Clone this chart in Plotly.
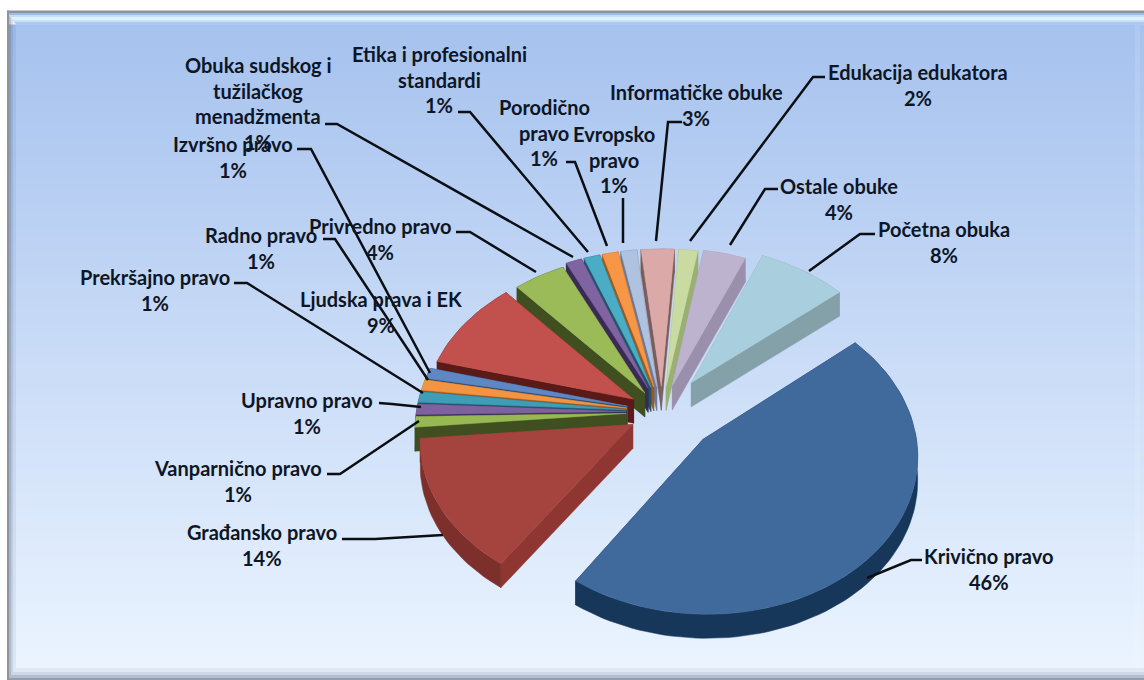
import math
import plotly.graph_objects as go

# ---- data -------------------------------------------------------------
categories = ["Krivično pravo", "Građansko pravo", "Vanparnično pravo", "Upravno pravo",
              "Prekršajno pravo", "Radno pravo", "Izvršno pravo", "Ljudska prava i EK",
              "Privredno pravo", "Obuka sudskog i tužilačkog menadžmenta",
              "Etika i profesionalni standardi", "Porodično pravo", "Evropsko pravo",
              "Informatičke obuke", "Edukacija edukatora", "Ostale obuke", "Početna obuka"]
values = [45.7, 14, 1.1, 1.1, 1.1, 1.1, 1.1, 9.4, 4.4, 1.35, 1.35, 1.35, 1.35, 2.8, 1.6, 3.6, 7.6]
label_lines = [["Krivično pravo"], ["Građansko pravo"], ["Vanparnično pravo"], ["Upravno pravo"],
               ["Prekršajno pravo"], ["Radno pravo"], ["Izvršno pravo"], ["Ljudska prava i EK"],
               ["Privredno pravo"], ["Obuka sudskog i", "tužilačkog", "menadžmenta"],
               ["Etika i profesionalni", "standardi"], ["Porodično", "pravo"], ["Evropsko", "pravo"],
               ["Informatičke obuke"], ["Edukacija edukatora"], ["Ostale obuke"], ["Početna obuka"]]

# ---- style ------------------------------------------------------------
top_colors = ["#40699C", "#A5443F", "#97B852", "#7E62A0", "#3F9DB5", "#F39443", "#5D88C4", "#C2504D",
              "#9BBB59", "#8064A2", "#4BACC6", "#F79646", "#AFC2DF", "#DBA9A7", "#C9DBA0", "#BEB3CF", "#A9CFDF"]
wall_colors = ["#17375A", "#7C2F2B", "#3F4F20", "#3A2A55", "#1F5568", "#9C5A22", "#2F4B75", "#5A1A18",
               "#3F4F20", "#3A2A55", "#1F5568", "#9C5A22", "#6B7A99", "#7A5C5A", "#9AAF72", "#9B90AC", "#84A1A9"]
radial_colors = ["#17375A", "#8F3632", "#3F4F20", "#3A2A55", "#1F5568", "#9C5A22", "#2F4B75", "#5A1A18",
                 "#3F4F20", "#3A2A55", "#1F5568", "#9C5A22", "#6B7A99", "#7A5C5A", "#9AAF72", "#9B90AC", "#84A1A9"]
# explosion of each slice (same role as a pie's "pull")
pulls = [0.26, 0.16, 0.17, 0.17, 0.17, 0.17, 0.17, 0.16, 0.15, 0.17, 0.17, 0.17, 0.17, 0.17, 0.17, 0.18, 0.24]
START, CX, CY, RX, RY, PERSP, DEPTH = 50, 662, 412, 210, 154, 0.09, 24
TEXT = "#0E1626"
FONT = "Lato"
FS = 20
LINE_H = 25.7
# label block: centre x, centre y of first line
label_pos = [(989, 556), (262, 532), (238, 468), (307, 400), (155, 277), (261, 235), (233, 144), (381, 299),
             (380, 226), (258, 65), (439, 54), (544, 107), (614, 134), (696, 92), (918, 72), (839, 186), (944, 229)]
leaders = [[(922, 560), (911, 560), (867, 578)], [(342, 539), (375, 539), (443, 535)], [(327, 474), (340, 474), (419, 421)],
           [(379, 403), (392, 404), (421, 407)], [(234, 283), (247, 283), (423, 393)], [(323, 239), (335, 239), (428, 380)],
           [(297, 149), (311, 149), (430, 373)], None, [(456, 232), (470, 232), (536, 272)],
           [(325, 124), (337, 124), (573, 257)], [(458, 112), (470, 112), (588, 252)], [(566, 162), (575, 162), (607, 246)],
           [(623, 198), (623, 243)], [(682, 122), (668, 122), (656, 241)], [(825, 77), (813, 77), (690, 241)],
           [(778, 189), (765, 189), (730, 245)], [(875, 234), (860, 234), (809, 271)]]


def proj(X, Y):
    w = 1 / (1 + PERSP * Y)
    return CX + RX * X * w, CY - RY * Y * w


total = sum(values)
slices = []
a = START
for i, v in enumerate(values):
    span = v / total * 360
    slices.append((i, a, a + span))
    a += span


def xy_close(points):
    xs = [p[0] for p in points] + [points[0][0]]
    ys = [p[1] for p in points] + [points[0][1]]
    return xs, ys


fig = go.Figure()


def add_poly(points, color, name):
    xs, ys = xy_close(points)
    fig.add_trace(go.Scatter(x=xs, y=ys, mode="lines", fill="toself", fillcolor=color,
                             line=dict(color=color, width=0.5), name=name, hoverinfo="name", showlegend=False))


order = sorted(slices, key=lambda s: -math.cos(math.radians((s[1] + s[2]) / 2)))
for i, a0, a1 in order:
    bis = math.radians((a0 + a1) / 2)
    ox, oy = pulls[i] * math.sin(bis), pulls[i] * math.cos(bis)
    n = max(3, int((a1 - a0) / 2) + 2)
    arc = []
    for k in range(n):
        t = math.radians(a0 + (a1 - a0) * k / (n - 1))
        arc.append(proj(ox + math.sin(t), oy + math.cos(t)))
    apex = proj(ox, oy)
    down = lambda p: (p[0], p[1] + DEPTH)
    name = f"{categories[i]}: {round(values[i])}%"
    add_poly([apex, arc[0], down(arc[0]), down(apex)], radial_colors[i], name)
    add_poly([apex, arc[-1], down(arc[-1]), down(apex)], radial_colors[i], name)
    add_poly(arc + [down(p) for p in reversed(arc)], wall_colors[i], name)
    add_poly([apex] + arc, top_colors[i], name)

# ---- labels -----------------------------------------------------------
annotations = []
for i, lines in enumerate(label_lines):
    cx, cy = label_pos[i]
    for j, s in enumerate(lines + [f"{round(values[i])}%"]):
        annotations.append(dict(x=cx, y=cy + j * LINE_H, text=s, showarrow=False, xanchor="center", yanchor="middle",
                                font=dict(family=FONT, size=FS, color=TEXT, weight="bold")))

# ---- background -------------------------------------------------------
shapes = [dict(type="rect", x0=0, x1=1144, y0=0, y1=680, fillcolor="white", line_width=0, layer="below")]
TOP_RGB, BOT_RGB = (166, 194, 238), (235, 244, 255)
y0, y1 = 25, 672
STRIPS = 80
for k in range(STRIPS):
    f = k / (STRIPS - 1)
    c = tuple(round(TOP_RGB[m] + (BOT_RGB[m] - TOP_RGB[m]) * f) for m in range(3))
    shapes.append(dict(type="rect", x0=7, x1=1144, y0=y0 + (y1 - y0) * k / STRIPS - 0.5,
                       y1=y0 + (y1 - y0) * (k + 1) / STRIPS + 0.5, fillcolor=f"rgb{c}", line_width=0, layer="below"))
shapes.append(dict(type="rect", x0=7, x1=1144, y0=672, y1=680, fillcolor=f"rgb{BOT_RGB}", line_width=0, layer="below"))


def path(pts, color):
    d = "M" + " L".join(f"{x},{y}" for x, y in pts) + " Z"
    return dict(type="path", path=d, fillcolor=color, line_width=0, layer="below")


# bevel: top band
for (ya, yb, col) in [(13, 15, "#9DBDE6"), (15, 17, "#C4E0F8"), (17, 20, "#DFF3FF"), (20, 22, "#C8E0F8"), (22, 25, "#AEC9F0")]:
    shapes.append(path([(7 + (ya - 13) * 0.8, ya), (1144, ya), (1144, yb), (7 + (yb - 13) * 0.8, yb)], col))
# bevel: left band
for (xa, xb, alpha) in [(9, 11, 0.35), (11, 13, 0.2), (13, 16, 0.08)]:
    shapes.append(path([(xa, 13 + (xa - 7) * 1.2), (xb, 13 + (xb - 7) * 1.2), (xb, 680 - (xb - 7) * 1.4), (xa, 680 - (xa - 7) * 1.4)],
                       f"rgba(58,80,112,{alpha})"))
# bevel: bottom band
for (ya, yb, alpha) in [(668, 672, 0.08), (672, 675, 0.2), (675, 678, 0.38), (678, 680, 0.6)]:
    shapes.append(path([(7 + (680 - ya) * 0.7, ya), (1144, ya), (1144, yb), (7 + (680 - yb) * 0.7, yb)], f"rgba(90,100,125,{alpha})"))
# bevel: right faint strip
shapes.append(path([(1135, 25), (1140, 25), (1140, 668), (1135, 668)], "rgba(255,255,255,0.12)"))
shapes += [
    dict(type="rect", x0=7, x1=1144, y0=10.5, y1=13, fillcolor="#8E9499", line_width=0, layer="below"),
    dict(type="rect", x0=7, x1=9, y0=10.5, y1=680, fillcolor="#8E9499", line_width=0, layer="below"),
]
for pts in leaders:
    if pts:
        d = "M" + " L".join(f"{x},{y}" for x, y in pts)
        shapes.append(dict(type="path", path=d, line=dict(color="#0B0F14", width=2.5), layer="above"))

fig.update_layout(width=1144, height=680, margin=dict(l=0, r=0, t=0, b=0), paper_bgcolor="white",
                  plot_bgcolor="rgba(0,0,0,0)", showlegend=False, shapes=shapes, annotations=annotations,
                  xaxis=dict(range=[0, 1144], visible=False, fixedrange=True),
                  yaxis=dict(range=[680, 0], visible=False, fixedrange=True))
fig.write_html("out.html", config=dict(displayModeBar=False),
               post_script="document.body.style.margin='0';document.documentElement.style.overflow='hidden';")
